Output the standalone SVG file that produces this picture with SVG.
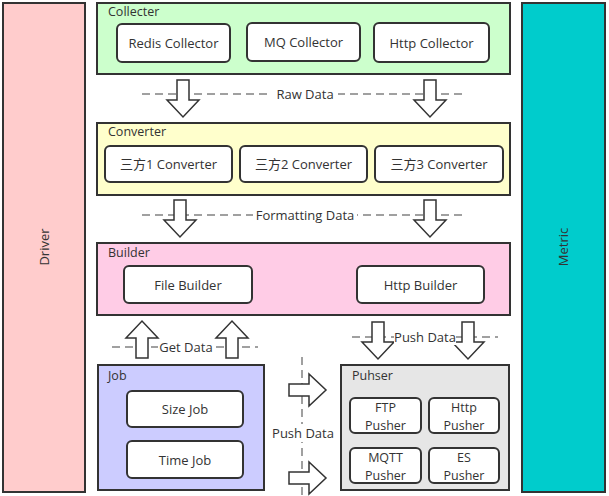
<svg xmlns="http://www.w3.org/2000/svg" width="609" height="496" viewBox="0 0 609 496">
<style>
.box{stroke:#333;stroke-width:2}
.inner{fill:#fff;stroke:#333;stroke-width:2}
text{font-family:"Open Sans","Noto Sans CJK SC",sans-serif;font-size:13px;fill:#333}
.c{text-anchor:middle;dominant-baseline:central}
.lbl{font-size:12.5px}
.sm{font-size:12.5px}
.dash{stroke:#a0a0a0;stroke-width:2;stroke-dasharray:8,5;fill:none}
.arr{fill:#fff;stroke:#333;stroke-width:1.5;stroke-linejoin:miter}
</style>
<defs>
<path id="down" d="M-6,0 H6 V20 H16 L0,37 L-16,20 H-6 Z"/>
<path id="up" d="M-6,0 H6 V-20 H16 L0,-37 L-16,-20 H-6 Z"/>
<path id="right" d="M0,-6 V6 H20 V16 L37,0 L20,-16 V-6 Z"/>
</defs>
<g id="driver"><rect class="box" x="3" y="3" width="82" height="489" fill="#FFCCCC"/><text class="c" transform="translate(44,247) rotate(-90)">Driver</text></g>
<g id="metric"><rect class="box" x="522" y="3" width="83" height="489" fill="#00CCCC"/><text class="c" transform="translate(563,247) rotate(-90)">Metric</text></g>
<g id="collecter"><rect class="box" x="97" y="3" width="413" height="71" fill="#CCFFCC"/><text x="108" y="11" class="lbl" dominant-baseline="central">Collecter</text>
<g id="redis-collector"><rect class="inner" x="117" y="24" width="113" height="38" rx="5"/><text class="c" x="173.5" y="43">Redis Collector</text></g>
<g id="mq-collector"><rect class="inner" x="247" y="23" width="113" height="38" rx="5"/><text class="c" x="303.5" y="42">MQ Collector</text></g>
<g id="http-collector"><rect class="inner" x="374" y="23" width="115" height="39" rx="5"/><text class="c" x="431.5" y="43">Http Collector</text></g>
</g>
<g id="converter"><rect class="box" x="97" y="123" width="413" height="72" fill="#FFFFCC"/><text x="108" y="131" class="lbl" dominant-baseline="central">Converter</text>
<g id="c1"><rect class="inner" x="105" y="146" width="127" height="36" rx="5"/><text class="c" x="168.5" y="164">三方1 Converter</text></g>
<g id="c2"><rect class="inner" x="240" y="146" width="127" height="36" rx="5"/><text class="c" x="303.5" y="164">三方2 Converter</text></g>
<g id="c3"><rect class="inner" x="375" y="146" width="128" height="36" rx="5"/><text class="c" x="439" y="164">三方3 Converter</text></g>
</g>
<g id="builder"><rect class="box" x="97" y="243" width="413" height="72" fill="#FFCCE6"/><text x="108" y="252" class="lbl" dominant-baseline="central">Builder</text>
<g id="file-builder"><rect class="inner" x="124" y="266" width="128" height="37" rx="5"/><text class="c" x="188" y="284.5">File Builder</text></g>
<g id="http-builder"><rect class="inner" x="357" y="266" width="127" height="37" rx="5"/><text class="c" x="420.5" y="284.5">Http Builder</text></g>
</g>
<g id="job"><rect class="box" x="98" y="365" width="166" height="125" fill="#CCCCFF"/><text x="108" y="375" class="lbl" dominant-baseline="central">Job</text>
<g id="size-job"><rect class="inner" x="127" y="391" width="116" height="36" rx="5"/><text class="c" x="185" y="409">Size Job</text></g>
<g id="time-job"><rect class="inner" x="127" y="441" width="116" height="37" rx="5"/><text class="c" x="185" y="459.5">Time Job</text></g>
</g>
<g id="pusher"><rect class="box" x="341" y="365" width="168" height="125" fill="#E6E6E6"/><text x="352" y="375" class="lbl" dominant-baseline="central">Puhser</text>
<g id="ftp"><rect class="inner" x="350" y="398" width="71" height="35" rx="5"/><text class="c sm" x="385.5" y="407.5">FTP</text><text class="c sm" x="385.5" y="425">Pusher</text></g>
<g id="httpp"><rect class="inner" x="429" y="398" width="70" height="35" rx="5"/><text class="c sm" x="464" y="407.5">Http</text><text class="c sm" x="464" y="425">Pusher</text></g>
<g id="mqtt"><rect class="inner" x="350" y="448" width="71" height="35" rx="5"/><text class="c sm" x="385.5" y="457.5">MQTT</text><text class="c sm" x="385.5" y="475">Pusher</text></g>
<g id="es"><rect class="inner" x="429" y="448" width="70" height="35" rx="5"/><text class="c sm" x="464" y="457.5">ES</text><text class="c sm" x="464" y="475">Pusher</text></g>
</g>
<g id="connectors">
<line class="dash" x1="142" y1="94" x2="465" y2="94"/>
<use href="#down" class="arr" x="183" y="80"/>
<use href="#down" class="arr" x="430" y="80"/>
<rect x="272" y="86" width="66" height="16" fill="#fff"/>
<text class="c" x="305" y="94">Raw Data</text>
<line class="dash" x1="142" y1="215" x2="465" y2="215"/>
<use href="#down" class="arr" x="180" y="200"/>
<use href="#down" class="arr" x="430" y="200"/>
<rect x="253" y="207" width="104" height="16" fill="#fff"/>
<text class="c" x="305" y="215">Formatting Data</text>
<line class="dash" x1="112" y1="347" x2="258" y2="347"/>
<use href="#up" class="arr" x="142" y="358"/>
<use href="#up" class="arr" x="232" y="358"/>
<rect x="158" y="339" width="58" height="16" fill="#fff"/>
<text class="c" x="186" y="347">Get Data</text>
<line class="dash" x1="352" y1="337" x2="498" y2="337"/>
<use href="#down" class="arr" x="378" y="322"/>
<use href="#down" class="arr" x="468" y="322"/>
<rect x="394" y="329" width="62" height="16" fill="#fff"/>
<text class="c" x="425" y="337">Push Data</text>
<line class="dash" x1="302" y1="357" x2="302" y2="496"/>
<use href="#right" class="arr" x="289" y="390"/>
<use href="#right" class="arr" x="289" y="478"/>
<rect x="272" y="424" width="62" height="18" fill="#fff"/>
<text class="c" x="303" y="433">Push Data</text>
</g>
</svg>
